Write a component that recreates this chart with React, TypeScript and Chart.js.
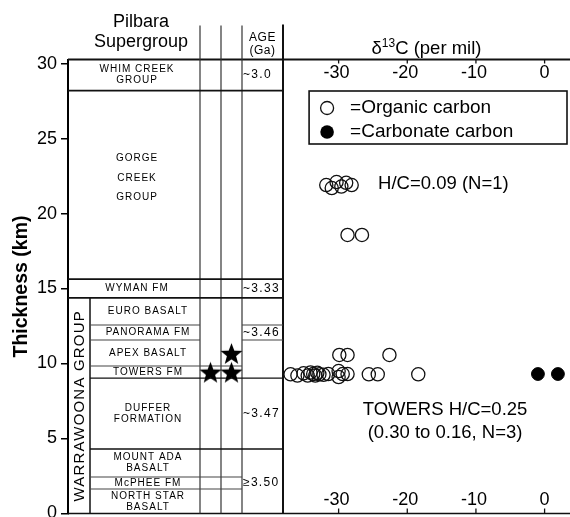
import React, { useEffect, useRef } from 'react';
import { Chart, registerables } from 'chart.js';
Chart.register(...registerables);

const FONT = "'Liberation Sans', Arial, Helvetica, sans-serif";

// ---- Stratigraphic column (Pilbara Supergroup), top to bottom ----
const unitNames = [
  'WHIM CREEK\nGROUP', 'GORGE\nCREEK\nGROUP', 'WYMAN FM', 'EURO BASALT', 'PANORAMA FM',
  'APEX BASALT', 'TOWERS FM', 'DUFFER\nFORMATION', 'MOUNT ADA\nBASALT', 'McPHEE FM', 'NORTH STAR\nBASALT',
];
const unitTopKm = [30.27, 28.2, 15.63, 14.37, 12.57, 11.57, 9.83, 9.03, 4.3, 2.43, 1.63];
const unitBottomKm = [28.2, 15.63, 14.37, 12.57, 11.57, 9.83, 9.03, 4.3, 2.43, 1.63, 0];
const unitInWarrawoona = [false, false, false, true, true, true, true, true, true, true, true];
// which columns the line under each unit crosses
const boundarySpan = ['full', 'full', 'full', 'nameAge', 'nameAge', 'noAge', 'group', 'group', 'noAge', 'noAge'];
const groupName = 'WARRAWOONA GROUP';
const groupTopKm = 14.37;
const ageLabels = ['~3.0', '~3.33', '~3.46', '~3.47', '\u22653.50'];
const ageUnitIndex = [0, 2, 4, 7, 9];
const starColumn = [0, 1, 1];
const starKm = [9.43, 9.43, 10.68];

// ---- δ13C data ----
const organicD13C = [
  -31.8, -31.0, -30.3, -29.6, -28.9, -28.1,
  -28.7, -26.6,
  -29.9, -28.7, -22.6,
  -37.0, -36.0, -35.1, -34.5, -34.1, -33.7, -33.4, -33.1, -32.8, -32.2, -31.5,
  -30.0, -30.0, -29.4, -28.7, -25.6, -24.3, -18.4,
];
const organicKm = [
  21.9, 21.7, 22.1, 21.8, 22.05, 21.9,
  18.57, 18.57,
  10.57, 10.57, 10.57,
  9.28, 9.2, 9.35, 9.2, 9.4, 9.3, 9.2, 9.38, 9.28, 9.25, 9.3,
  9.5, 9.1, 9.3, 9.3, 9.28, 9.28, 9.28,
];
const carbonateD13C = [-0.97, 1.94];
const carbonateKm = [9.3, 9.3];

const d13cTicks = [-30, -20, -10, 0];
const thicknessTicks = [0, 5, 10, 15, 20, 25, 30];
const Y_MAX = 30.27;
const D13C_MIN = -38.1;
const D13C_MAX = 3.7;

// layout of the column panel (px inside the plot area)
const PLOT_W = 502;
const COL_EDGES = [0, 22, 132, 153, 174, 215];
const COL_W = COL_EDGES[5];
const X_MIN = D13C_MIN - (D13C_MAX - D13C_MIN) * COL_W / (PLOT_W - COL_W);

function makeStar(r: number) {
  const c = document.createElement('canvas');
  const s = Math.ceil(r * 2 + 2);
  c.width = s;
  c.height = s;
  const g = c.getContext('2d')!;
  g.translate(s / 2, s / 2 + r * 0.1);
  g.beginPath();
  for (let i = 0; i < 10; i++) {
    const rad = i % 2 === 0 ? r : r * 0.42;
    const a = -Math.PI / 2 + (i * Math.PI) / 5;
    g.lineTo(rad * Math.cos(a), rad * Math.sin(a));
  }
  g.closePath();
  g.fillStyle = '#000';
  g.fill();
  return c;
}

const strataPlugin = {
  id: 'strata',
  beforeDraw(chart: any) {
    const ctx = chart.ctx;
    ctx.save();
    ctx.fillStyle = '#fff';
    ctx.fillRect(0, 0, chart.width, chart.height);
    ctx.restore();
  },
  beforeDatasetsDraw(chart: any) {
    const { ctx, chartArea: ca, scales } = chart;
    const y = scales.y;
    const x = scales.x;
    const colX = COL_EDGES.map((p) => ca.left + p);
    const headerTop = ca.top - 34;

    const line = (x1: number, y1: number, x2: number, y2: number, w: number, c = '#111') => {
      ctx.save();
      ctx.strokeStyle = c;
      ctx.lineWidth = w;
      ctx.beginPath();
      ctx.moveTo(x1, y1);
      ctx.lineTo(x2, y2);
      ctx.stroke();
      ctx.restore();
    };
    const text = (s: string, tx: number, ty: number, size: number, align: CanvasTextAlign = 'center', spacing = '0px', weight = 'normal') => {
      ctx.save();
      ctx.font = `${weight} ${size}px ${FONT}`;
      (ctx as any).letterSpacing = spacing;
      ctx.fillStyle = '#000';
      ctx.textAlign = align;
      ctx.textBaseline = 'middle';
      ctx.fillText(s, tx, ty);
      ctx.restore();
    };

    // frame
    line(colX[0], ca.top, ca.right, ca.top, 2);
    line(colX[0], ca.bottom, ca.right, ca.bottom, 1.5);
    line(colX[5], headerTop - 1, colX[5], ca.bottom, 2);
    for (const k of [2, 3, 4]) line(colX[k], headerTop, colX[k], ca.bottom, 1.2, '#333');
    line(colX[1], y.getPixelForValue(groupTopKm), colX[1], ca.bottom, 1.5);

    // unit boundaries
    boundarySpan.forEach((span, i) => {
      const yy = y.getPixelForValue(unitBottomKm[i]);
      if (span === 'full') line(colX[0], yy, colX[5], yy, 1.8);
      else if (span === 'group') line(colX[1], yy, colX[5], yy, 1.3);
      else if (span === 'noAge') line(colX[1], yy, colX[4], yy, 1.1, '#444');
      else {
        line(colX[1], yy, colX[2], yy, 1.1, '#444');
        line(colX[4], yy, colX[5], yy, 1.1, '#444');
      }
    });

    // unit names
    unitNames.forEach((name, i) => {
      const yt = y.getPixelForValue(unitTopKm[i]);
      const yb = y.getPixelForValue(unitBottomKm[i]);
      const cx = (unitInWarrawoona[i] ? (colX[1] + colX[2]) / 2 : (colX[0] + colX[2]) / 2) + 3;
      const lines = name.split('\n');
      const tall = yb - yt > 100;
      const lh = tall ? 19.5 : 11;
      const cy = (yt + yb) / 2 - (tall ? 7 : 0);
      lines.forEach((ln, j) => {
        text(ln, cx, cy + (j - (lines.length - 1) / 2) * lh, 10, 'center', '1px');
      });
    });

    // ages
    ageLabels.forEach((a, i) => {
      const u = ageUnitIndex[i];
      const cy = (y.getPixelForValue(unitTopKm[u]) + y.getPixelForValue(unitBottomKm[u])) / 2;
      text(a, colX[4] + 1, cy, 12, 'left', '1.3px');
    });

    // group label (rotated)
    ctx.save();
    const gy = (y.getPixelForValue(groupTopKm) + y.getPixelForValue(0)) / 2;
    ctx.translate((colX[0] + colX[1]) / 2 + 0.5, gy);
    ctx.rotate(-Math.PI / 2);
    text(groupName, 0, 0, 15, 'center', '1.2px');
    ctx.restore();

    // headers
    const hx = (colX[0] + colX[2]) / 2 + 7;
    text('Pilbara', hx, ca.top - 37, 18);
    text('Supergroup', hx, ca.top - 17, 18);
    text('AGE', (colX[4] + colX[5]) / 2, ca.top - 21.5, 12, 'center', '0.5px');
    text('(Ga)', (colX[4] + colX[5]) / 2, ca.top - 8.5, 12, 'center', '0.5px');

    // δ13C title
    ctx.save();
    ctx.fillStyle = '#000';
    ctx.textBaseline = 'alphabetic';
    ctx.textAlign = 'left';
    const parts: [string, number, number][] = [['\u03b4', 18.5, 0], ['13', 12, -6.5], ['C (per mil)', 18.5, 0]];
    let tw = 0;
    parts.forEach(([s, sz]) => { ctx.font = `${sz}px ${FONT}`; tw += ctx.measureText(s).width; });
    let tx = x.getPixelForValue(-17.2) - tw / 2;
    const base = ca.top - 6;
    parts.forEach(([s, sz, dy]) => {
      ctx.font = `${sz}px ${FONT}`;
      ctx.fillText(s, tx, base + dy);
      tx += ctx.measureText(s).width;
    });
    ctx.restore();

    // δ13C ticks (top and bottom, labels inside)
    x.ticks.forEach((t: any) => {
      const px = x.getPixelForValue(t.value);
      line(px, ca.top, px, ca.top + 4, 1.3);
      line(px, ca.bottom - 5, px, ca.bottom, 1.3);
      const lbl = String(t.value);
      text(lbl, px - (t.value < 0 ? 2 : 0), ca.top + 13.5, 18);
      text(lbl, px - (t.value < 0 ? 2 : 0), ca.bottom - 13.5, 18);
    });

    // annotations
    text('H/C=0.09 (N=1)', x.getPixelForValue(-24.25), y.getPixelForValue(22.0), 18.5, 'left');
    text('TOWERS H/C=0.25', x.getPixelForValue(-14.5), y.getPixelForValue(6.9), 18.5);
    text('(0.30 to 0.16, N=3)', x.getPixelForValue(-14.5), y.getPixelForValue(5.37), 18.5);

    // legend box
    const bx = x.getPixelForValue(-34.3);
    const by = ca.top + 31.5;
    ctx.save();
    ctx.strokeStyle = '#111';
    ctx.lineWidth = 1.6;
    ctx.strokeRect(bx, by, ca.right - 3 - bx, 53);
    ctx.lineWidth = 1.3;
    ctx.beginPath();
    ctx.arc(bx + 18, by + 17, 6.5, 0, Math.PI * 2);
    ctx.stroke();
    ctx.fillStyle = '#000';
    ctx.beginPath();
    ctx.arc(bx + 18, by + 41, 6.8, 0, Math.PI * 2);
    ctx.fill();
    ctx.restore();
    text('=Organic carbon', bx + 41, by + 17, 19, 'left');
    text('=Carbonate carbon', bx + 41, by + 41, 19, 'left');
  },
};

export default function App() {
  const ref = useRef<HTMLCanvasElement | null>(null);
  useEffect(() => {
    document.body.style.margin = '0';
    const canvas = ref.current!;
    const star = makeStar(11.5);
    const starX = starColumn.map((c) => ((COL_EDGES[c + 2] + COL_EDGES[c + 3]) / 2) / PLOT_W);
    const chart = new Chart(canvas, {
      type: 'scatter',
      data: {
        datasets: [
          {
            label: 'Organic carbon',
            data: organicD13C.map((v, i) => ({ x: v, y: organicKm[i] })),
            xAxisID: 'x', yAxisID: 'y',
            pointStyle: 'circle', pointRadius: 6.6,
            borderColor: '#111', borderWidth: 1.3,
            backgroundColor: 'rgba(0,0,0,0)',
          },
          {
            label: 'Carbonate carbon',
            data: carbonateD13C.map((v, i) => ({ x: v, y: carbonateKm[i] })),
            xAxisID: 'x', yAxisID: 'y',
            pointStyle: 'circle', pointRadius: 6.4,
            borderColor: '#000', borderWidth: 1,
            backgroundColor: '#000',
          },
          {
            label: 'Stromatolite / microfossil horizons',
            data: starX.map((v, i) => ({ x: v, y: starKm[i] })),
            xAxisID: 'xc', yAxisID: 'y',
            pointStyle: star as any, pointRadius: 10,
          },
        ],
      },
      options: {
        responsive: false,
        animation: false,
        events: [],
        layout: { autoPadding: false, padding: { left: 0, right: 0, top: 59.5, bottom: 26.5 } },
        plugins: { legend: { display: false }, tooltip: { enabled: false } },
        scales: {
          x: {
            type: 'linear', display: false, min: X_MIN, max: D13C_MAX,
            afterBuildTicks: (s: any) => { s.ticks = d13cTicks.map((v) => ({ value: v })); },
          },
          xc: { type: 'linear', display: false, min: 0, max: 1 },
          y: {
            type: 'linear', position: 'left', min: 0, max: Y_MAX,
            afterBuildTicks: (s: any) => { s.ticks = thicknessTicks.map((v) => ({ value: v })); },
            afterFit: (s: any) => { s.width = 68; },
            ticks: { font: { size: 18, family: FONT }, color: '#000', padding: 4, includeBounds: false },
            grid: { drawOnChartArea: false, drawTicks: true, tickLength: 7, color: '#000', lineWidth: 1.5 },
            border: { display: true, color: '#000', width: 2 },
            title: {
              display: true, text: 'Thickness (km)', color: '#000',
              font: { size: 19.5, weight: 'bold', family: FONT },
              padding: { top: 10, bottom: 0 },
            },
          },
        },
      } as any,
      plugins: [strataPlugin],
    });
    return () => chart.destroy();
  }, []);
  return (
    <div style={{ position: 'fixed', left: 0, top: 0, width: 570, height: 517, overflow: 'hidden', background: '#fff' }}>
      <canvas ref={ref} width={570} height={540} style={{ display: 'block' }} />
    </div>
  );
}
